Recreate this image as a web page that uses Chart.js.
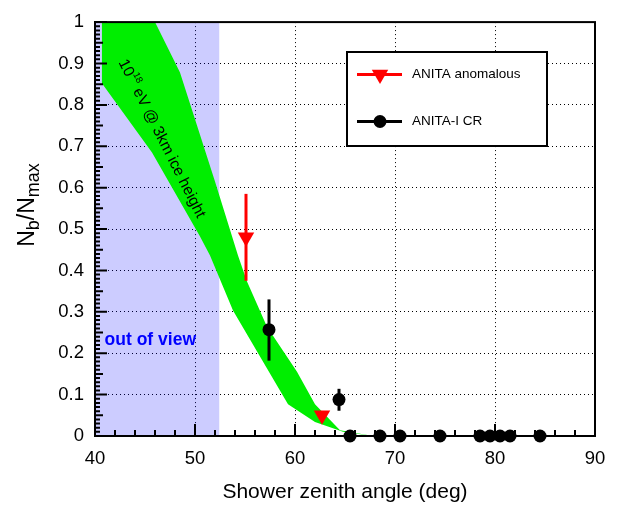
<!DOCTYPE html>
<html>
<head>
<meta charset="utf-8">
<script src="https://cdn.jsdelivr.net/npm/chart.js@4.4.0/dist/chart.umd.min.js"></script>
<style>
html, body { margin: 0; padding: 0; background: #fff; }
canvas { display: block; }
</style>
</head>
<body>
<canvas id="zenithChart" width="618" height="505"></canvas>
<script>
/* ANITA anomalous events (red triangles) */
const anomAngle = [55.1, 62.7];
const anomFrac  = [0.48, 0.05];
const anomLo    = [0.375, null];
const anomHi    = [0.585, null];

/* ANITA-I cosmic rays (black dots) */
const crAngle = [57.4, 64.4, 65.5, 68.5, 70.5, 74.5, 78.5, 79.5, 80.5, 81.5, 84.5];
const crFrac  = [0.257, 0.088, 0, 0, 0, 0, 0, 0, 0, 0, 0];
const crLo    = [0.182, 0.061, null, null, null, null, null, null, null, null, null];
const crHi    = [0.33, 0.114, null, null, null, null, null, null, null, null, null];

/* green band, 10^18 eV @ 3km ice height */
const bandUpAngle = [40.67, 46.0, 48.5, 52.0, 54.3, 55.2, 57.2, 60.2, 62.0, 64.5, 67.8];
const bandUpFrac  = [1.0, 1.0, 0.878, 0.615, 0.436, 0.373, 0.264, 0.155, 0.077, 0.014, 0.0];
const bandLoAngle = [40.67, 45.7, 50.5, 51.5, 53.8, 59.3, 62.0, 64.8, 67.8];
const bandLoFrac  = [0.853, 0.685, 0.482, 0.436, 0.303, 0.077, 0.034, 0.010, 0.0];

/* out of view region */
const outViewAngle = [40, 52.45];
const outViewFrac  = [1, 1];

const xTicks = [40, 50, 60, 70, 80, 90];
const yTicks = [0, 0.1, 0.2, 0.3, 0.4, 0.5, 0.6, 0.7, 0.8, 0.9, 1];
const yTickLabels = ['0', '0.1', '0.2', '0.3', '0.4', '0.5', '0.6', '0.7', '0.8', '0.9', '1'];

const FONT = '"Liberation Sans", Arial, Helvetica, sans-serif';

function pts(xs, ys) {
    return xs.map((v, i) => ({x: v, y: ys[i]}));
}

function errorBars(xs, lo, hi, color) {
    let sets = [];
    xs.forEach((v, i) => {
        if (lo[i] === null) return;
        sets.push({
            type: 'line',
            data: [{x: v, y: lo[i]}, {x: v, y: hi[i]}],
            borderColor: color,
            borderWidth: 3,
            borderCapStyle: 'butt',
            pointRadius: 0,
            fill: false,
            clip: false,
            order: 5
        });
    });
    return sets;
}

/* ROOT style frame, inward ticks, texts and legend */
const rootDecor = {
    id: 'rootDecor',
    afterDraw(chart) {
        const {ctx, chartArea: a, scales: {x, y}} = chart;
        ctx.save();
        ctx.strokeStyle = '#000';
        ctx.lineWidth = 2;
        ctx.beginPath();
        for (let v = 40; v <= 90; v += 2) {
            const px = x.getPixelForValue(v);
            const len = v % 10 === 0 ? 12 : 6;
            ctx.moveTo(px, a.bottom);
            ctx.lineTo(px, a.bottom - len);
        }
        for (let i = 0; i <= 100; i++) {
            const py = y.getPixelForValue(i / 100);
            const len = i % 10 === 0 ? 12 : (i % 5 === 0 ? 8 : 5);
            ctx.moveTo(a.left, py);
            ctx.lineTo(a.left + len, py);
        }
        ctx.stroke();
        ctx.strokeRect(a.left, a.top, a.right - a.left, a.bottom - a.top);

        // band label
        ctx.fillStyle = '#000';
        ctx.textBaseline = 'middle';
        ctx.save();
        ctx.translate(x.getPixelForValue(46.67), y.getPixelForValue(0.7185));
        ctx.rotate(63.2 * Math.PI / 180);
        const f1 = '15.5px ' + FONT, f2 = '9.5px ' + FONT;
        ctx.font = f1;
        const w1 = ctx.measureText('10').width;
        const w3 = ctx.measureText(' eV @ 3km ice height').width;
        ctx.font = f2;
        const w2 = ctx.measureText('18').width;
        let sx = -(w1 + w2 + w3) / 2;
        ctx.textAlign = 'left';
        ctx.font = f1;
        ctx.fillText('10', sx, 0);
        ctx.font = f2;
        ctx.fillText('18', sx + w1, -6);
        ctx.font = f1;
        ctx.fillText(' eV @ 3km ice height', sx + w1 + w2, 0);
        ctx.restore();

        // out of view
        ctx.fillStyle = '#0000ff';
        ctx.font = 'bold 17.5px ' + FONT;
        ctx.textAlign = 'center';
        ctx.fillText('out of view', x.getPixelForValue(45.53), y.getPixelForValue(0.232));

        // y title N_b/N_max
        ctx.save();
        ctx.fillStyle = '#000';
        ctx.textAlign = 'left';
        ctx.textBaseline = 'alphabetic';
        const big = '23px ' + FONT, small = '18px ' + FONT;
        const parts = [['N', big, 0], ['b', small, 5], ['/N', big, 0], ['max', small, 5]];
        let total = 0;
        parts.forEach(p => { ctx.font = p[1]; p.push(ctx.measureText(p[0]).width); total += p[3]; });
        ctx.translate(34, 205 + total / 2);
        ctx.rotate(-Math.PI / 2);
        let px = 0;
        parts.forEach(p => { ctx.font = p[1]; ctx.fillText(p[0], px, p[2]); px += p[3]; });
        ctx.restore();

        // legend box
        const lx = 347, ly = 52, lw = 200, lh = 94;
        ctx.fillStyle = '#fff';
        ctx.fillRect(lx, ly, lw, lh);
        ctx.lineWidth = 2;
        ctx.strokeStyle = '#000';
        ctx.strokeRect(lx, ly, lw, lh);
        const items = [
            {y: 74.5, color: '#ff0000', label: 'ANITA anomalous', marker: 'tri'},
            {y: 121.5, color: '#000000', label: 'ANITA-I CR', marker: 'dot'}
        ];
        items.forEach(it => {
            ctx.strokeStyle = it.color;
            ctx.fillStyle = it.color;
            ctx.lineWidth = 3;
            ctx.beginPath();
            ctx.moveTo(357, it.y);
            ctx.lineTo(402, it.y);
            ctx.stroke();
            ctx.beginPath();
            if (it.marker === 'tri') {
                const r = 9.5;
                ctx.moveTo(380 - r * 0.866, it.y - r * 0.5);
                ctx.lineTo(380 + r * 0.866, it.y - r * 0.5);
                ctx.lineTo(380, it.y + r);
            } else {
                ctx.arc(380, it.y, 6.5, 0, Math.PI * 2);
            }
            ctx.closePath();
            ctx.fill();
            ctx.fillStyle = '#000';
            ctx.font = '13.5px ' + FONT;
            ctx.textAlign = 'left';
            ctx.textBaseline = 'middle';
            ctx.fillText(it.label, 412, it.y);
        });
        ctx.restore();
    }
};

let ctxZenith = document.getElementById('zenithChart').getContext('2d');
let zenithChart = new Chart(ctxZenith, {
    type: 'line',
    data: {
        datasets: [
            {
                label: 'out of view',
                data: pts(outViewAngle, outViewFrac),
                borderWidth: 0,
                pointRadius: 0,
                backgroundColor: 'rgba(0, 0, 255, 0.2)',
                fill: 'origin',
                order: 10
            },
            {
                label: 'band upper',
                data: pts(bandUpAngle, bandUpFrac),
                borderWidth: 0,
                pointRadius: 0,
                backgroundColor: '#00ee00',
                fill: '+1',
                order: 9
            },
            {
                label: 'band lower',
                data: pts(bandLoAngle, bandLoFrac),
                borderWidth: 0,
                pointRadius: 0,
                fill: false,
                order: 9
            },
            ...errorBars(anomAngle, anomLo, anomHi, '#ff0000'),
            ...errorBars(crAngle, crLo, crHi, '#000000'),
            {
                label: 'ANITA-I CR',
                data: pts(crAngle, crFrac),
                showLine: false,
                pointStyle: 'circle',
                pointRadius: 6.5,
                pointBackgroundColor: '#000',
                pointBorderColor: '#000',
                pointBorderWidth: 0,
                clip: false,
                order: 1
            },
            {
                label: 'ANITA anomalous',
                data: pts(anomAngle, anomFrac),
                showLine: false,
                pointStyle: 'triangle',
                pointRotation: 180,
                pointRadius: 9.5,
                pointBackgroundColor: '#ff0000',
                pointBorderColor: '#ff0000',
                pointBorderWidth: 0,
                clip: false,
                order: 0
            }
        ]
    },
    options: {
        responsive: false,
        animation: false,
        events: [],
        layout: {
            autoPadding: false,
            padding: {left: 0, right: 23, top: 9, bottom: 0}
        },
        plugins: {
            legend: {display: false},
            tooltip: {enabled: false}
        },
        scales: {
            x: {
                type: 'linear',
                min: 40,
                max: 90,
                afterFit: s => { s.height = 69; },
                afterBuildTicks: s => { s.ticks = xTicks.map(v => ({value: v})); },
                ticks: {
                    color: '#000',
                    font: {family: FONT, size: 18.5},
                    padding: 12,
                    maxRotation: 0
                },
                grid: {color: '#000', lineWidth: 1, drawTicks: false},
                border: {display: true, color: '#000', width: 2, dash: [1, 3]},
                title: {
                    display: true,
                    text: 'Shower zenith angle (deg)',
                    color: '#000',
                    font: {family: FONT, size: 21},
                    padding: {top: 4, bottom: 0}
                }
            },
            y: {
                type: 'linear',
                min: 0,
                max: 1,
                afterFit: s => { s.width = 95; },
                afterBuildTicks: s => { s.ticks = yTicks.map(v => ({value: v})); },
                ticks: {
                    color: '#000',
                    font: {family: FONT, size: 18.5},
                    padding: 11,
                    callback: (v) => yTickLabels[yTicks.indexOf(Math.round(v * 10) / 10)]
                },
                grid: {color: '#000', lineWidth: 1, drawTicks: false},
                border: {display: true, color: '#000', width: 2, dash: [1, 3]}
            }
        }
    },
    plugins: [rootDecor]
});
</script>
</body>
</html>
